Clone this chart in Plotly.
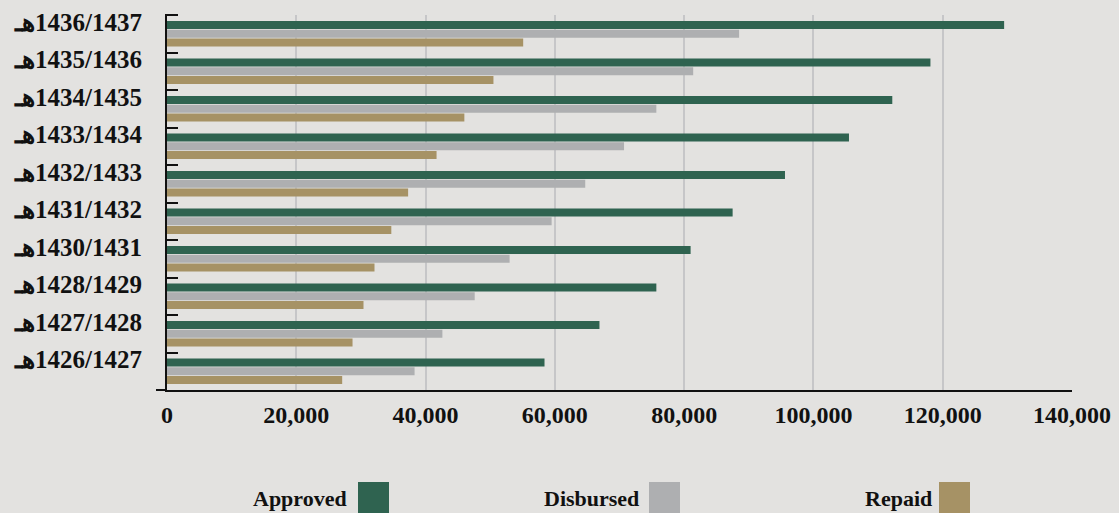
import plotly.graph_objects as go

# Hijri financial years, top to bottom
years = ["1436/1437", "1435/1436", "1434/1435", "1433/1434", "1432/1433",
         "1431/1432", "1430/1431", "1428/1429", "1427/1428", "1426/1427"]
hijri_suffix = "هـ"

approved = [129500, 118100, 112200, 105500, 95600, 87500, 81000, 75700, 66900, 58400]
disbursed = [88500, 81400, 75700, 70700, 64700, 59500, 53000, 47600, 42600, 38300]
repaid = [55100, 50500, 46000, 41700, 37300, 34700, 32100, 30400, 28700, 27100]

series_names = ["Approved", "Disbursed", "Repaid"]
series_values = [approved, disbursed, repaid]
series_colors = ["#2f6350", "#aeafb1", "#a69265"]

x_ticks = [0, 20000, 40000, 60000, 80000, 100000, 120000, 140000]

# suffix sits to the left of the year; LRM keeps the digits in LTR order
labels = [hijri_suffix + "\u200e" + y for y in years]

W, H = 1119, 513
M_L, M_R, M_T, M_B = 167, 47, 15, 123
PW, PH = W - M_L - M_R, H - M_T - M_B

def px_x(p):
    return (p - M_L) / PW

def px_y(p):
    return (H - M_B - p) / PH

fig = go.Figure()
for name, vals, col in zip(series_names, series_values, series_colors):
    fig.add_trace(go.Bar(
        y=labels, x=vals, name=name, orientation="h",
        marker=dict(color=col, line=dict(width=0)),
        showlegend=False,
    ))

serif = "Liberation Serif, DejaVu Serif, serif"

fig.update_layout(
    width=W, height=H,
    margin=dict(l=M_L, r=M_R, t=M_T, b=M_B, autoexpand=False),
    paper_bgcolor="#e3e2e0",
    plot_bgcolor="#e3e2e0",
    barmode="group",
    bargap=0.3,
    bargroupgap=0.1,
    font=dict(family=serif, color="#111111"),
    xaxis=dict(
        range=[0, 140000],
        tickvals=x_ticks,
        tickformat=",d",
        showgrid=True, gridcolor="#c6c6c8", gridwidth=1.5,
        zeroline=False,
        showline=True, linecolor="#111111", linewidth=2,
        ticks="",
        automargin=False,
        ticklabelstandoff=2,
        tickfont=dict(size=24, weight="bold", family=serif, color="#111111"),
        fixedrange=True,
    ),
    yaxis=dict(
        type="category",
        categoryorder="array", categoryarray=labels,
        autorange="reversed",
        showline=True, linecolor="#111111", linewidth=2,
        ticks="inside", tickson="boundaries", ticklen=11, tickwidth=2, tickcolor="#111111",
        automargin=False,
        ticklabelshift=12,
        ticklabelstandoff=18,
        showgrid=False, zeroline=False,
        tickfont=dict(size=25, weight="bold", family=serif, color="#111111"),
        fixedrange=True,
    ),
)

# short extension of the base line to the left of the value axis
fig.add_shape(type="line", xref="paper", yref="paper",
              x0=px_x(156), x1=0, y0=0, y1=0,
              line=dict(color="#111111", width=2))
# closing tick at the top end of the category axis
fig.add_shape(type="line", xref="paper", yref="paper",
              x0=px_x(165), x1=px_x(178), y0=1, y1=1,
              line=dict(color="#111111", width=2))

# legend: label on the left, colour swatch on the right
legend_text_right = [349, 641, 934]
legend_swatch_left = [358, 649, 939]
swatch_w = 31
for name, col, tr, sl in zip(series_names, series_colors, legend_text_right, legend_swatch_left):
    fig.add_shape(type="rect", xref="paper", yref="paper",
                  x0=px_x(sl), x1=px_x(sl + swatch_w),
                  y0=px_y(525), y1=px_y(482),
                  fillcolor=col, line=dict(width=0), layer="above")
    fig.add_annotation(xref="paper", yref="paper",
                       x=px_x(tr), y=px_y(498), xanchor="right", yanchor="middle",
                       text=name, showarrow=False,
                       font=dict(size=22, weight="bold", family=serif, color="#111111"))

fig.write_html("out.html")
